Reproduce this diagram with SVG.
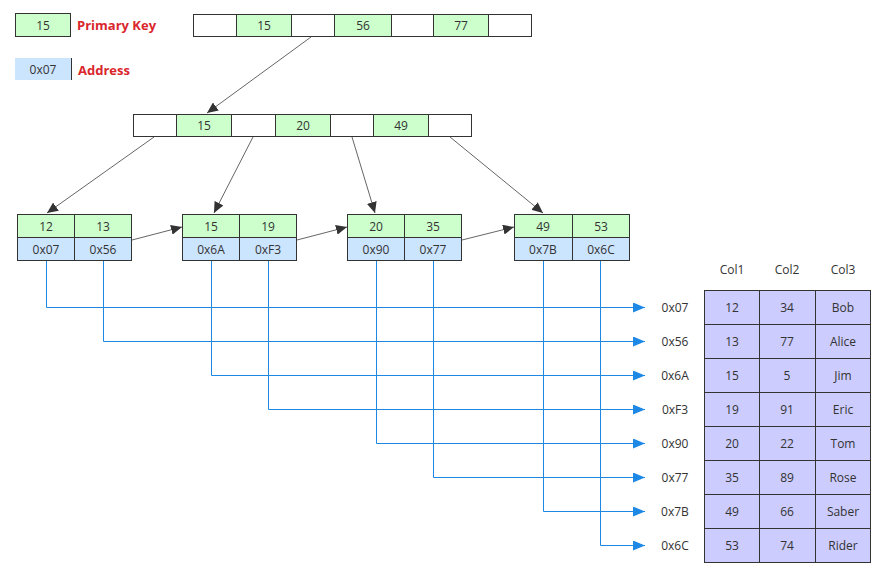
<svg xmlns="http://www.w3.org/2000/svg" width="890" height="577" viewBox="0 0 890 577">
<style>
text{font-family:"Open Sans","Noto Sans","Liberation Sans",sans-serif;font-size:12px;fill:#333;text-anchor:middle;dominant-baseline:central}
.k{fill:#ccffcc;stroke:#333;stroke-width:1}
.w{fill:#fff;stroke:#333;stroke-width:1}
.a{fill:#cce5ff;stroke:#333;stroke-width:1}
.t{fill:#ccccff;stroke:#333;stroke-width:1}
.lbl{fill:#d9262c;font-weight:bold;font-size:13px;text-anchor:start}
.tree{stroke:#666;stroke-width:1;fill:none}
.ptr{stroke:#1e88e5;stroke-width:1;fill:none}
</style>
<defs>
<marker id="ah" markerUnits="userSpaceOnUse" markerWidth="12" markerHeight="10" refX="11" refY="5" orient="auto">
<path d="M0,0 L11,5 L0,10 z" fill="#333"/>
</marker>
<marker id="bh" markerUnits="userSpaceOnUse" markerWidth="13" markerHeight="10" refX="12" refY="5" orient="auto">
<path d="M0,0 L12,5 L0,10 z" fill="#1e88e5"/>
</marker>
</defs>
<rect width="890" height="577" fill="#fff"/>

<g id="legend">
<rect class="k" x="15.5" y="13.5" width="55" height="23"/>
<text x="43" y="25">15</text>
<text class="lbl" x="77" y="25">Primary Key</text>
<rect x="15" y="58" width="56" height="22" fill="#cce5ff"/>
<line x1="71.5" y1="58" x2="71.5" y2="80" stroke="#333"/>
<text x="43" y="69">0x07</text>
<text class="lbl" x="78" y="70">Address</text>
</g>

<g id="connectors">
<line class="tree" x1="311" y1="37" x2="207" y2="113" marker-end="url(#ah)"/>
<line class="tree" x1="154" y1="137" x2="47" y2="213" marker-end="url(#ah)"/>
<line class="tree" x1="253" y1="137" x2="214" y2="213" marker-end="url(#ah)"/>
<line class="tree" x1="352" y1="137" x2="375" y2="213" marker-end="url(#ah)"/>
<line class="tree" x1="450" y1="137" x2="543" y2="213" marker-end="url(#ah)"/>
<line class="tree" x1="132" y1="240" x2="182" y2="227" marker-end="url(#ah)"/>
<line class="tree" x1="297" y1="240" x2="347" y2="227" marker-end="url(#ah)"/>
<line class="tree" x1="462" y1="240" x2="514" y2="227" marker-end="url(#ah)"/>
<polyline class="ptr" points="46.5,261 46.5,307.5 645,307.5" marker-end="url(#bh)"/>
<polyline class="ptr" points="103.5,261 103.5,341.5 645,341.5" marker-end="url(#bh)"/>
<polyline class="ptr" points="211.5,261 211.5,375.5 645,375.5" marker-end="url(#bh)"/>
<polyline class="ptr" points="268.5,261 268.5,409.5 645,409.5" marker-end="url(#bh)"/>
<polyline class="ptr" points="376.5,261 376.5,443.5 645,443.5" marker-end="url(#bh)"/>
<polyline class="ptr" points="433.5,261 433.5,477.5 645,477.5" marker-end="url(#bh)"/>
<polyline class="ptr" points="543.5,261 543.5,511.5 645,511.5" marker-end="url(#bh)"/>
<polyline class="ptr" points="600.5,261 600.5,545.5 645,545.5" marker-end="url(#bh)"/>
</g>

<g id="root">
<rect class="w" x="193.5" y="14.5" width="43" height="22"/>
<rect class="k" x="236.5" y="14.5" width="55" height="22"/>
<rect class="w" x="291.5" y="14.5" width="43" height="22"/>
<rect class="k" x="334.5" y="14.5" width="57" height="22"/>
<rect class="w" x="391.5" y="14.5" width="42" height="22"/>
<rect class="k" x="433.5" y="14.5" width="55" height="22"/>
<rect class="w" x="488.5" y="14.5" width="43" height="22"/>
<text x="264" y="25.5">15</text>
<text x="363" y="25.5">56</text>
<text x="461" y="25.5">77</text>
</g>

<g id="inner">
<rect class="w" x="133.5" y="114.5" width="43" height="22"/>
<rect class="k" x="176.5" y="114.5" width="55" height="22"/>
<rect class="w" x="231.5" y="114.5" width="44" height="22"/>
<rect class="k" x="275.5" y="114.5" width="55" height="22"/>
<rect class="w" x="330.5" y="114.5" width="43" height="22"/>
<rect class="k" x="373.5" y="114.5" width="55" height="22"/>
<rect class="w" x="428.5" y="114.5" width="43" height="22"/>
<text x="204" y="125.5">15</text>
<text x="303" y="125.5">20</text>
<text x="401" y="125.5">49</text>
</g>

<g id="leaf1">
<rect class="k" x="17.5" y="214.5" width="57" height="23"/>
<rect class="k" x="74.5" y="214.5" width="57" height="23"/>
<rect class="a" x="17.5" y="237.5" width="57" height="23"/>
<rect class="a" x="74.5" y="237.5" width="57" height="23"/>
<text x="46" y="226">12</text><text x="103" y="226">13</text>
<text x="46" y="249">0x07</text><text x="103" y="249">0x56</text>
</g>
<g id="leaf2">
<rect class="k" x="182.5" y="214.5" width="57" height="23"/>
<rect class="k" x="239.5" y="214.5" width="57" height="23"/>
<rect class="a" x="182.5" y="237.5" width="57" height="23"/>
<rect class="a" x="239.5" y="237.5" width="57" height="23"/>
<text x="211" y="226">15</text><text x="268" y="226">19</text>
<text x="211" y="249">0x6A</text><text x="268" y="249">0xF3</text>
</g>
<g id="leaf3">
<rect class="k" x="347.5" y="214.5" width="57" height="23"/>
<rect class="k" x="404.5" y="214.5" width="57" height="23"/>
<rect class="a" x="347.5" y="237.5" width="57" height="23"/>
<rect class="a" x="404.5" y="237.5" width="57" height="23"/>
<text x="376" y="226">20</text><text x="433" y="226">35</text>
<text x="376" y="249">0x90</text><text x="433" y="249">0x77</text>
</g>
<g id="leaf4">
<rect class="k" x="514.5" y="214.5" width="58" height="23"/>
<rect class="k" x="572.5" y="214.5" width="57" height="23"/>
<rect class="a" x="514.5" y="237.5" width="58" height="23"/>
<rect class="a" x="572.5" y="237.5" width="57" height="23"/>
<text x="543" y="226">49</text><text x="601" y="226">53</text>
<text x="543" y="249">0x7B</text><text x="601" y="249">0x6C</text>
</g>

<g id="addresses">
<text x="675" y="307.5">0x07</text>
<text x="675" y="341.5">0x56</text>
<text x="675" y="375.5">0x6A</text>
<text x="675" y="409.5">0xF3</text>
<text x="675" y="443.5">0x90</text>
<text x="675" y="477.5">0x77</text>
<text x="675" y="511.5">0x7B</text>
<text x="675" y="545.5">0x6C</text>
</g>

<g id="table">
<text x="732" y="269">Col1</text>
<text x="787" y="269">Col2</text>
<text x="843" y="269">Col3</text>
<g>
<rect class="t" x="704.5" y="290.5" width="55" height="34"/><rect class="t" x="759.5" y="290.5" width="56" height="34"/><rect class="t" x="815.5" y="290.5" width="55" height="34"/>
<rect class="t" x="704.5" y="324.5" width="55" height="34"/><rect class="t" x="759.5" y="324.5" width="56" height="34"/><rect class="t" x="815.5" y="324.5" width="55" height="34"/>
<rect class="t" x="704.5" y="358.5" width="55" height="34"/><rect class="t" x="759.5" y="358.5" width="56" height="34"/><rect class="t" x="815.5" y="358.5" width="55" height="34"/>
<rect class="t" x="704.5" y="392.5" width="55" height="34"/><rect class="t" x="759.5" y="392.5" width="56" height="34"/><rect class="t" x="815.5" y="392.5" width="55" height="34"/>
<rect class="t" x="704.5" y="426.5" width="55" height="34"/><rect class="t" x="759.5" y="426.5" width="56" height="34"/><rect class="t" x="815.5" y="426.5" width="55" height="34"/>
<rect class="t" x="704.5" y="460.5" width="55" height="34"/><rect class="t" x="759.5" y="460.5" width="56" height="34"/><rect class="t" x="815.5" y="460.5" width="55" height="34"/>
<rect class="t" x="704.5" y="494.5" width="55" height="34"/><rect class="t" x="759.5" y="494.5" width="56" height="34"/><rect class="t" x="815.5" y="494.5" width="55" height="34"/>
<rect class="t" x="704.5" y="528.5" width="55" height="34"/><rect class="t" x="759.5" y="528.5" width="56" height="34"/><rect class="t" x="815.5" y="528.5" width="55" height="34"/>
</g>
<text x="732" y="307.5">12</text><text x="787" y="307.5">34</text><text x="843" y="307.5">Bob</text>
<text x="732" y="341.5">13</text><text x="787" y="341.5">77</text><text x="843" y="341.5">Alice</text>
<text x="732" y="375.5">15</text><text x="787" y="375.5">5</text><text x="843" y="375.5">Jim</text>
<text x="732" y="409.5">19</text><text x="787" y="409.5">91</text><text x="843" y="409.5">Eric</text>
<text x="732" y="443.5">20</text><text x="787" y="443.5">22</text><text x="843" y="443.5">Tom</text>
<text x="732" y="477.5">35</text><text x="787" y="477.5">89</text><text x="843" y="477.5">Rose</text>
<text x="732" y="511.5">49</text><text x="787" y="511.5">66</text><text x="843" y="511.5">Saber</text>
<text x="732" y="545.5">53</text><text x="787" y="545.5">74</text><text x="843" y="545.5">Rider</text>
</g>
</svg>
